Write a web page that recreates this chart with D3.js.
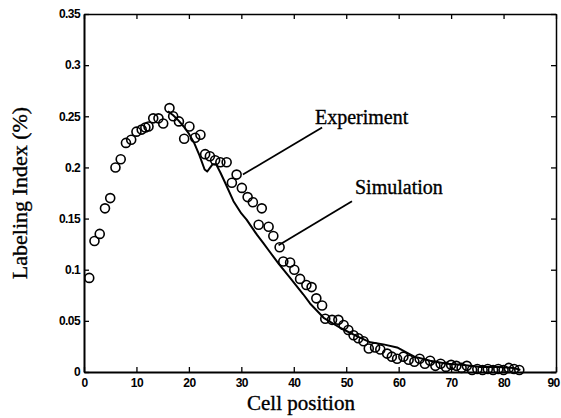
<!DOCTYPE html>
<html>
<head>
<meta charset="utf-8">
<script src="https://cdn.jsdelivr.net/npm/d3@7.9.0/dist/d3.min.js"></script>
<style>
  body { margin: 0; background: #fff; }
  svg { display: block; }
  .tick text { font-family: "Liberation Sans Narrow", "Liberation Sans", Arial, sans-serif; font-weight: bold; font-size: 12px; letter-spacing: -0.6px; }
  .lbl { font-family: "Liberation Serif", "Times New Roman", serif; fill: #000; stroke: #000; stroke-width: 0.35px; }
</style>
</head>
<body>
<div id="chart"></div>
<script>
// experiment measurements (cell position, labeling index)
const expX = [1, 2, 3, 4, 5, 6, 7, 8, 9, 10, 11, 11.7, 12.3, 13.2, 14.2, 15.1, 16.3, 17, 18.1, 19.1,
  20.1, 21.2, 22.2, 23.1, 24, 25, 26, 27.2, 28.2, 29.1, 30.1, 31.2, 32.2, 33.3, 33.9, 35.2, 36.1, 37.3, 38, 39.3,
  40.1, 41.2, 42.4, 43.4, 44.3, 45.4, 46, 47.3, 48.5, 49.5, 50.4, 51.4, 52.3, 53.3, 54.3, 55.5, 56.5, 57.8, 58.7, 59.7,
  60.9, 61.9, 63, 64, 65, 66, 67, 68, 69, 70, 71, 72, 73, 74, 75, 76, 77, 78, 79, 80, 81, 82, 83];
const expY = [0.092, 0.128, 0.135, 0.160, 0.170, 0.200, 0.208, 0.224, 0.227, 0.235, 0.237, 0.239, 0.240, 0.248, 0.248, 0.243, 0.258, 0.250, 0.245, 0.228,
  0.240, 0.229, 0.232, 0.213, 0.211, 0.207, 0.205, 0.205, 0.185, 0.193, 0.180, 0.171, 0.166, 0.144, 0.160, 0.142, 0.133, 0.122, 0.108, 0.107,
  0.100, 0.091, 0.085, 0.083, 0.072, 0.065, 0.052, 0.051, 0.051, 0.046, 0.041, 0.036, 0.033, 0.030, 0.023, 0.024, 0.022, 0.018, 0.015, 0.013,
  0.015, 0.012, 0.010, 0.013, 0.008, 0.011, 0.006, 0.008, 0.005, 0.007, 0.006, 0.004, 0.006, 0.002, 0.003, 0.002, 0.003, 0.002, 0.003, 0.002, 0.004, 0.003, 0.002];

// simulation curve
const simX = [16, 17, 18, 19, 20, 21, 22, 23, 23.5, 24.5, 25.2, 26, 27, 28.5, 30, 31, 33, 34.2, 35.2, 37.1, 39.3,
  41.8, 43.1, 45.7, 48.9, 52, 54.6, 57.1, 59.7, 61.9, 63, 66, 69.2, 72, 75.6, 79, 81.9, 83.2];
const simY = [0.255, 0.251, 0.246, 0.240, 0.233, 0.224, 0.212, 0.198, 0.196, 0.203, 0.203, 0.195, 0.184, 0.167, 0.155, 0.149, 0.134, 0.126, 0.119, 0.106, 0.092,
  0.076, 0.067, 0.053, 0.043, 0.035, 0.029, 0.027, 0.024, 0.018, 0.015, 0.011, 0.008, 0.007, 0.005, 0.005, 0.004, 0.002];

const xTicks = [0, 10, 20, 30, 40, 50, 60, 70, 80, 90];
const yTicks = [0, 0.05, 0.1, 0.15, 0.2, 0.25, 0.3, 0.35];

const W = 561, H = 418;
const m = { left: 84, right: 5, top: 14, bottom: 46 };

const svg = d3.select('#chart').append('svg').attr('width', W).attr('height', H);

const x = d3.scaleLinear().domain([0, 90]).range([m.left, W - m.right]);
const y = d3.scaleLinear().domain([0, 0.35]).range([H - m.bottom, m.top]);

const fmtY = d => d === 0 ? '0' : String(+d.toFixed(2));

// axes with inward ticks
svg.append('g').attr('transform', `translate(0,${y(0)})`)
  .call(d3.axisBottom(x).tickValues(xTicks).tickSizeInner(-5).tickSizeOuter(0).tickPadding(6))
  .call(g => g.select('.domain').attr('stroke-width', 2))
  .call(g => g.selectAll('.tick text').filter(d => d === 90).attr('dx', -3));
svg.append('g').attr('transform', `translate(${x(0)},0)`)
  .call(d3.axisLeft(y).tickValues(yTicks).tickFormat(fmtY).tickSizeInner(-5).tickSizeOuter(0).tickPadding(4))
  .call(g => g.select('.domain').attr('stroke-width', 2));
svg.append('g').attr('transform', `translate(0,${y(0.35)})`)
  .call(d3.axisTop(x).tickValues(xTicks).tickSizeInner(-5).tickSizeOuter(0).tickFormat(''))
  .call(g => g.select('.domain').attr('stroke-width', 1.5));
svg.append('g').attr('transform', `translate(${x(90)},0)`)
  .call(d3.axisRight(y).tickValues(yTicks).tickSizeInner(-5).tickSizeOuter(0).tickFormat(''))
  .call(g => g.select('.domain').attr('stroke-width', 1.5));
svg.selectAll('.tick line').attr('stroke-width', 1.3);
svg.selectAll('.tick text').attr('fill', '#000');

// simulation line
const sim = simX.map((d, i) => [d, simY[i]]);
svg.append('path')
  .datum(sim)
  .attr('fill', 'none')
  .attr('stroke', '#000')
  .attr('stroke-width', 2)
  .attr('stroke-linejoin', 'round')
  .attr('d', d3.line().x(d => x(d[0])).y(d => y(d[1])));

// experiment circles
const exp = expX.map((d, i) => [d, expY[i]]);
svg.append('g').selectAll('circle')
  .data(exp)
  .join('circle')
  .attr('cx', d => x(d[0]))
  .attr('cy', d => y(d[1]))
  .attr('r', 4.5)
  .attr('fill', 'none')
  .attr('stroke', '#000')
  .attr('stroke-width', 1.6);

// annotations
svg.append('line')
  .attr('x1', x(30.3)).attr('y1', y(0.193))
  .attr('x2', x(45.4)).attr('y2', y(0.239))
  .attr('stroke', '#000').attr('stroke-width', 1.8);
svg.append('text').attr('class', 'lbl')
  .attr('x', 315).attr('y', 124).attr('font-size', 20).text('Experiment');

svg.append('line')
  .attr('x1', x(37.1)).attr('y1', y(0.124))
  .attr('x2', x(51.1)).attr('y2', y(0.167))
  .attr('stroke', '#000').attr('stroke-width', 1.8);
svg.append('text').attr('class', 'lbl')
  .attr('x', 355).attr('y', 194).attr('font-size', 20).text('Simulation');

// axis titles
svg.append('text').attr('class', 'lbl')
  .attr('x', 301).attr('y', 410).attr('text-anchor', 'middle')
  .attr('font-size', 21).text('Cell position');
svg.append('text').attr('class', 'lbl')
  .attr('transform', 'translate(27,193) rotate(-90)')
  .attr('text-anchor', 'middle')
  .attr('font-size', 22).text('Labeling Index (%)');
</script>
</body>
</html>
